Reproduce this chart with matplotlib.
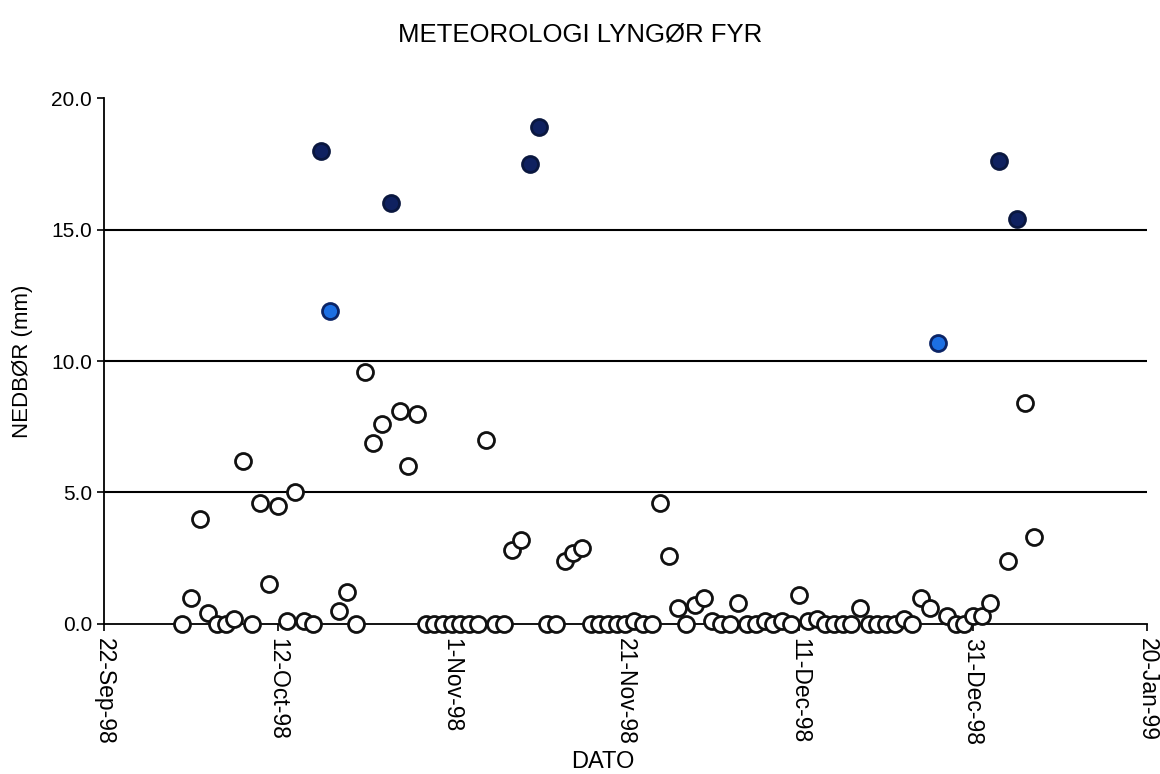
import numpy as np
import pandas as pd
import matplotlib
matplotlib.use("Agg")
import matplotlib.pyplot as plt
import matplotlib.dates as mdates

plt.rcParams['font.family'] = ['Liberation Sans', 'DejaVu Sans']

# daily precipitation (mm), Lyngør fyr, 1 Oct 1998 - 7 Jan 1999
oct_mm = [0, 1.0, 4.0, 0.4, 0, 0, 0.2, 6.2, 0, 4.6, 1.5, 4.5, 0.1, 5.0, 0.1, 0,
          18.0, 11.9, 0.5, 1.2, 0, 9.6, 6.9, 7.6, 16.0, 8.1, 6.0, 8.0, 0, 0, 0]
nov_mm = [0, 0, 0, 0, 7.0, 0, 0, 2.8, 3.2, 17.5, 18.9, 0, 0, 2.4, 2.7, 2.9,
          0, 0, 0, 0, 0, 0.1, 0, 0, 4.6, 2.6, 0.6, 0, 0.7, 1.0]
dec_mm = [0.1, 0, 0, 0.8, 0, 0, 0.1, 0, 0.1, 0, 1.1, 0.1, 0.2, 0, 0, 0, 0,
          0.6, 0, 0, 0, 0, 0.2, 0, 1.0, 0.6, 10.7, 0.3, 0, 0, 0.3]
jan_mm = [0.3, 0.8, 17.6, 2.4, 15.4, 8.4, 3.3]

start_date = "1998-10-01"
x_start, x_end = "1998-09-22", "1999-01-20"
tick_step_days = 20
grid_levels = [5, 10, 15]

values = np.array(oct_mm + nov_mm + dec_mm + jan_mm)
dates = pd.date_range(start_date, periods=len(values), freq="D")

# marker classes (Excel-style): >15 dark, 10-15 light blue, rest white
classes = [
    (values < 10, "white", "#111111"),
    ((values >= 10) & (values < 15), "#1c6fe3", "#0b2466"),
    (values >= 15, "#0f2160", "#0a173f"),
]

fig = plt.figure(figsize=(11.6, 7.74), dpi=100)
ax = fig.add_axes([0.0897, 0.194, 0.899, 0.679])

for y in grid_levels:
    ax.axhline(y, color="black", lw=1.5, zorder=1)

for mask, fc, ec in classes:
    ax.plot(dates[mask], values[mask], "o", ms=11.5, mfc=fc, mec=ec, mew=2,
            clip_on=False, zorder=4)

ax.set_xlim(pd.Timestamp(x_start), pd.Timestamp(x_end))
ax.set_ylim(0, 20)
ax.set_xticks(pd.date_range(x_start, x_end, freq=f"{tick_step_days}D"))
ax.xaxis.set_major_formatter(mdates.DateFormatter("%-d-%b-%y"))
ax.set_yticks([0, 5, 10, 15, 20])
ax.yaxis.set_major_formatter(matplotlib.ticker.FormatStrFormatter("%.1f"))

for s in ["top", "right"]:
    ax.spines[s].set_visible(False)
for s in ["left", "bottom"]:
    ax.spines[s].set_linewidth(1.3)
    ax.spines[s].set_color("black")
ax.tick_params(axis="both", direction="out", length=5, width=1.2,
               colors="black")
ax.tick_params(axis="y", labelsize=15)
ax.tick_params(axis="x", labelsize=16.5, pad=5)
plt.setp(ax.get_xticklabels(), rotation=-90)

ax.set_ylabel("NEDBØR (mm)", fontsize=16)
ax.yaxis.set_label_coords(-0.068, 0.5)
fig.text(0.52, 0.016, "DATO", fontsize=17, ha="center", va="center")
fig.suptitle("METEOROLOGI LYNGØR FYR", fontsize=18.5, y=0.955, va="center")

fig.savefig("out.png", dpi=100, facecolor="white")
